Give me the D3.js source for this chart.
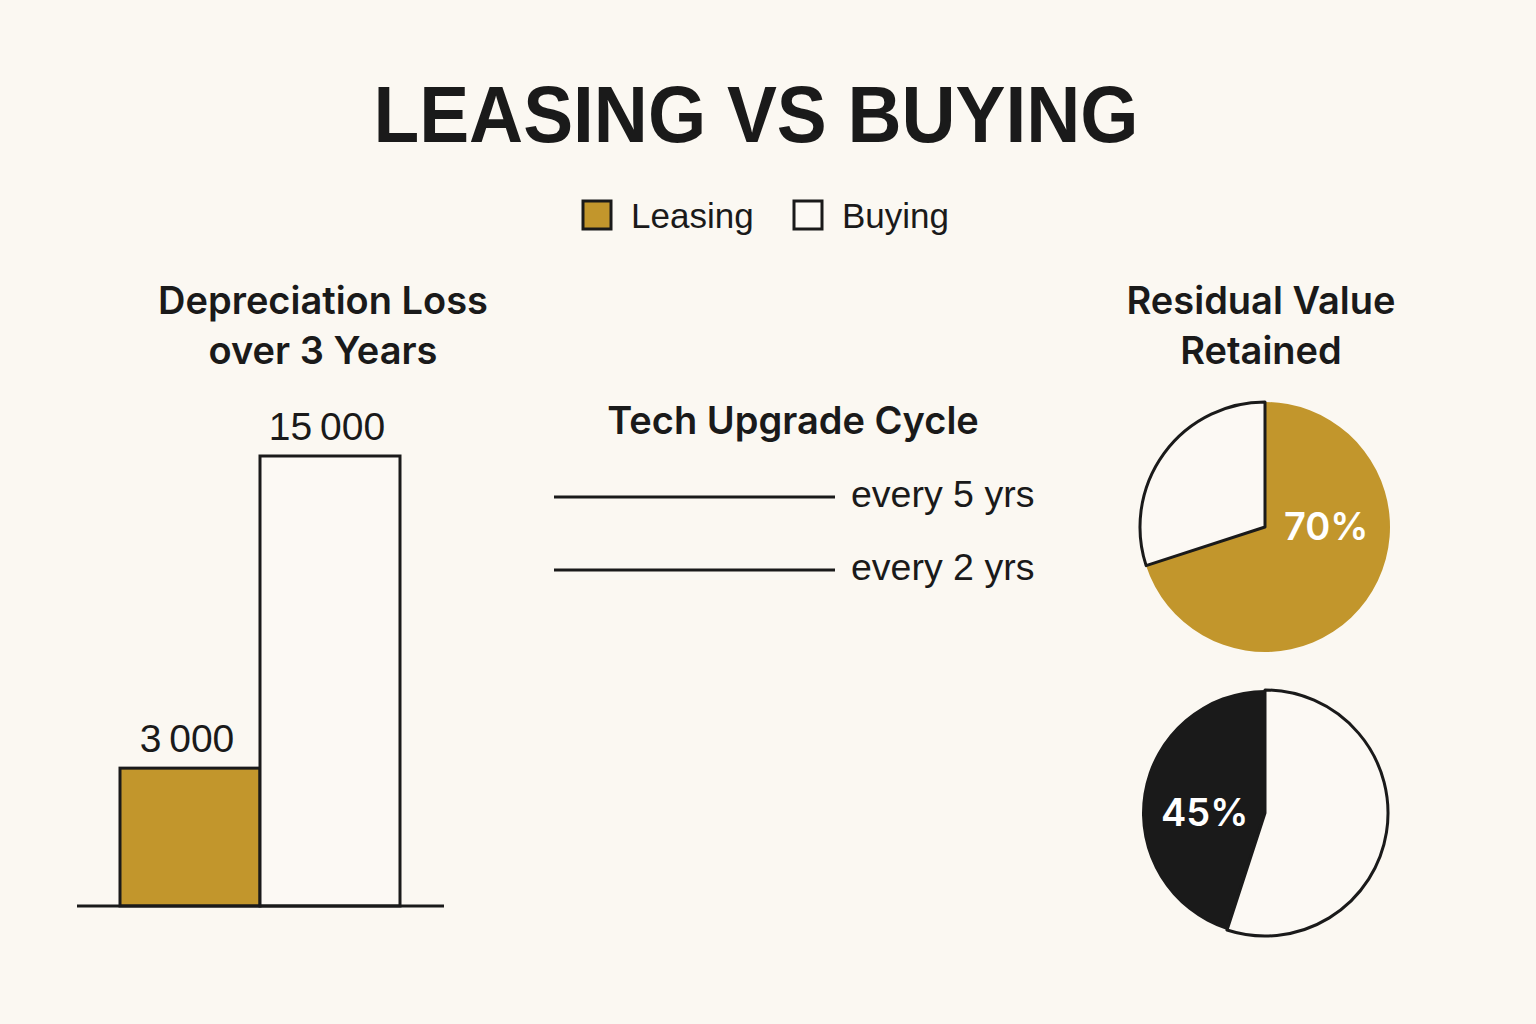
<!DOCTYPE html>
<html>
<head>
<meta charset="utf-8">
<script src="https://cdn.jsdelivr.net/npm/d3@7"></script>
<style>
  html, body { margin: 0; padding: 0; background: #fbf8f2; }
  svg { display: block; }
</style>
</head>
<body>
<script>
(function() {

  // chart data
  const options = ["Leasing", "Buying"];
  const depreciation = [3000, 15000];
  const upgradeLabels = ["every 5 yrs", "every 2 yrs"];
  const residualLabels = ["70%", "45%"];
  const residualShare = [70, 45];

  const gold = "#c2962c";
  const ink = "#1a1a1a";
  const paper = "#fcf9f4";
  const sans = "'Liberation Sans', Arial, sans-serif";
  const heading = "Inter, 'Noto Sans', sans-serif";

  let svgContainer = d3.select('body').append('svg')
    .attr('width', 1536)
    .attr('height', 1024);

  svgContainer.append('rect')
    .attr('width', 1536)
    .attr('height', 1024)
    .attr('fill', '#fbf8f2');

  // title
  svgContainer.append('text')
    .attr('x', 756)
    .attr('y', 142)
    .attr('text-anchor', 'middle')
    .attr('textLength', 765)
    .attr('lengthAdjust', 'spacingAndGlyphs')
    .text('LEASING VS BUYING')
    .style('font-family', sans)
    .style('font-weight', 'bold')
    .style('font-size', '80px')
    .style('fill', ink);

  makeLegend();
  makeBarChart();
  makeUpgradeCycle();
  makePies();

  // legend with two swatches
  function makeLegend() {
    let items = [
      { name: options[0], x: 583, fill: gold },
      { name: options[1], x: 794, fill: paper }
    ];
    let g = svgContainer.append('g');
    g.selectAll('rect')
      .data(items)
      .enter()
      .append('rect')
        .attr('x', (d) => d.x)
        .attr('y', 201)
        .attr('width', 28)
        .attr('height', 28)
        .attr('fill', (d) => d.fill)
        .attr('stroke', ink)
        .attr('stroke-width', 3);
    g.selectAll('text')
      .data(items)
      .enter()
      .append('text')
        .attr('x', (d) => d.x + 48)
        .attr('y', 228)
        .text((d) => d.name)
        .style('font-family', sans)
        .style('font-size', '35px')
        .style('fill', ink);
  }

  function sectionTitle(lines, x, y) {
    let t = svgContainer.append('text')
      .attr('text-anchor', 'middle')
      .style('font-family', heading)
      .style('font-weight', 600)
      .style('font-size', '38px')
      .style('fill', ink);
    lines.forEach((line, i) => {
      t.append('tspan')
        .attr('x', x)
        .attr('y', y + i * 50)
        .text(line);
    });
  }

  // depreciation bars
  function makeBarChart() {
    sectionTitle(['Depreciation Loss', 'over 3 Years'], 323, 314);

    let xScale = d3.scaleBand()
      .domain(options)
      .range([120, 400])
      .padding(0);

    // reference draws bars on an offset baseline
    let yScale = d3.scaleLinear()
      .domain([-2300, 15000])
      .range([906, 456]);

    let fmt = d3.formatLocale({ thousands: '\u2009', grouping: [3], decimal: '.', currency: ['', ''] }).format(',');

    let rows = options.map((name, i) => ({ name: name, value: depreciation[i] }));

    svgContainer.selectAll('.bar')
      .data(rows)
      .enter()
      .append('rect')
        .attr('class', 'bar')
        .attr('x', (d) => xScale(d.name))
        .attr('y', (d) => yScale(d.value))
        .attr('width', xScale.bandwidth())
        .attr('height', (d) => 906 - yScale(d.value))
        .attr('fill', (d, i) => i == 0 ? gold : paper)
        .attr('stroke', ink)
        .attr('stroke-width', 3);

    svgContainer.selectAll('.barlabel')
      .data(rows)
      .enter()
      .append('text')
        .attr('class', 'barlabel')
        .attr('x', (d) => xScale(d.name) + xScale.bandwidth() / 2 - 3)
        .attr('y', (d) => yScale(d.value) - 16)
        .attr('text-anchor', 'middle')
        .text((d) => fmt(d.value))
        .style('font-family', sans)
        .style('font-size', '39px')
        .style('fill', ink);

    svgContainer.append('line')
      .attr('x1', 77)
      .attr('x2', 444)
      .attr('y1', 906)
      .attr('y2', 906)
      .attr('stroke', ink)
      .attr('stroke-width', 3);
  }

  // upgrade cycle lines
  function makeUpgradeCycle() {
    sectionTitle(['Tech Upgrade Cycle'], 793, 434);

    let yScale = d3.scalePoint()
      .domain(upgradeLabels)
      .range([497, 570]);

    let g = svgContainer.append('g');
    g.selectAll('line')
      .data(upgradeLabels)
      .enter()
      .append('line')
        .attr('x1', 554)
        .attr('x2', 835)
        .attr('y1', (d) => yScale(d))
        .attr('y2', (d) => yScale(d))
        .attr('stroke', ink)
        .attr('stroke-width', 3);
    g.selectAll('text')
      .data(upgradeLabels)
      .enter()
      .append('text')
        .attr('x', 851)
        .attr('y', (d) => yScale(d) + 10)
        .text((d) => d)
        .style('font-family', sans)
        .style('font-size', '37.5px')
        .style('fill', ink);
  }

  // residual value pies
  function makePies() {
    sectionTitle(['Residual Value', 'Retained'], 1261, 314);

    let pies = [
      { cx: 1265, cy: 527, r: 125, share: residualShare[0], label: residualLabels[0], fill: gold, clockwise: true },
      { cx: 1265, cy: 813, r: 123, share: residualShare[1], label: residualLabels[1], fill: ink, clockwise: false }
    ];

    pies.forEach((p) => {
      let values = p.clockwise ? [p.share, 100 - p.share] : [100 - p.share, p.share];
      let pie = d3.pie().sort(null)(values);
      let arc = d3.arc().innerRadius(0).outerRadius(p.r);
      let filled = p.clockwise ? pie[0] : pie[1];
      let empty = p.clockwise ? pie[1] : pie[0];

      let g = svgContainer.append('g')
        .attr('transform', 'translate(' + p.cx + ',' + p.cy + ')');

      g.append('path')
        .attr('d', arc(filled))
        .attr('fill', p.fill);
      g.append('path')
        .attr('d', arc(empty))
        .attr('fill', paper)
        .attr('stroke', ink)
        .attr('stroke-width', 3)
        .attr('stroke-linejoin', 'round');

      // label sits level with the centre, on the filled side
      let c = arc.centroid(filled);
      let side = c[0] >= 0 ? 1 : -1;
      g.append('text')
        .attr('x', side * p.r * 0.49)
        .attr('y', 0)
        .attr('dy', '0.35em')
        .attr('text-anchor', 'middle')
        .text(p.label)
        .style('font-family', heading)
        .style('font-weight', 600)
        .style('font-size', '38px')
        .style('fill', '#ffffff');
    });
  }

})();
</script>
</body>
</html>
